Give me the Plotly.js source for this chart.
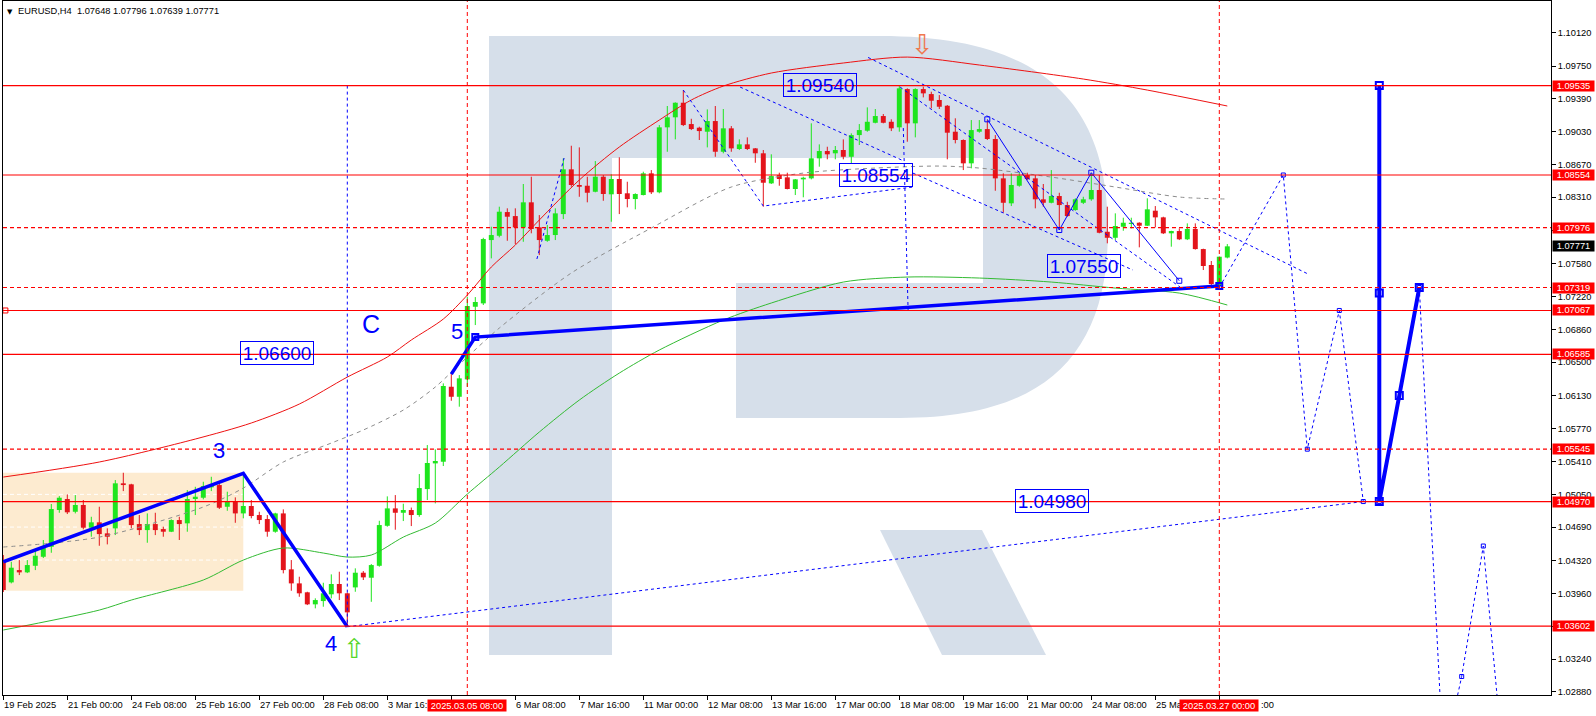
<!DOCTYPE html>
<html><head><meta charset="utf-8">
<script src="https://cdn.plot.ly/plotly-3.0.1.min.js"></script>
<style>html,body{margin:0;padding:0;background:#fff;overflow:hidden}#chart{width:1596px;height:716px}</style>
</head><body><div id="chart"></div>
<script>
// ---------------- DATA ----------------
const barOpen=[1.04328,1.04083,1.04218,1.04193,1.04265,1.04364,1.04474,1.04877,1.04998,1.04858,
1.04932,1.04683,1.04742,1.04621,1.04676,1.05170,1.05159,1.04723,1.04657,1.04723,
1.04668,1.04639,1.04767,1.04731,1.04998,1.05012,1.05126,1.05151,1.04913,1.04968,
1.04840,1.04921,1.04822,1.04778,1.04639,1.04840,1.04226,1.04072,1.03974,1.03842,
1.03878,1.03952,1.04065,1.03963,1.04028,1.04189,1.04134,1.04265,1.04704,1.04895,
1.04847,1.04877,1.04822,1.05107,1.05389,1.05407,1.06230,1.06120,1.06311,1.07108,
1.07145,1.07840,1.07887,1.08147,1.08103,1.07979,1.08254,1.07979,1.07832,1.07895,
1.08125,1.08616,1.08444,1.08436,1.08370,1.08535,1.08342,1.08510,1.08353,1.08290,
1.08334,1.08572,1.08364,1.09077,1.09187,1.09347,1.09113,1.09073,1.09029,1.09146,
1.08809,1.09066,1.08839,1.08890,1.08846,1.08792,1.08462,1.08553,1.08528,1.08400,
1.08506,1.08517,1.08737,1.08817,1.08792,1.08828,1.08754,1.08992,1.09040,1.09127,
1.09201,1.09138,1.09077,1.09497,1.09121,1.09497,1.09442,1.09377,1.09314,1.09029,
1.08938,1.08682,1.09029,1.09058,1.08949,1.08517,1.08243,1.08436,1.08553,1.08517,
1.08287,1.08249,1.08323,1.08224,1.08169,1.08249,1.08287,1.08389,1.07931,1.07865,
1.07986,1.08016,1.08030,1.07997,1.08162,1.08089,1.07914,1.07939,1.07848,1.07961,
1.07741,1.07566,1.07346,1.07648];
const barHigh=[1.04383,1.04309,1.04328,1.04328,1.04438,1.04548,1.04943,1.05030,1.05049,1.05041,
1.04987,1.04803,1.04913,1.04676,1.05206,1.05286,1.05165,1.04822,1.04840,1.04847,
1.04694,1.04775,1.04803,1.05096,1.05132,1.05187,1.05242,1.05187,1.05078,1.05016,
1.05286,1.04987,1.04858,1.04822,1.04847,1.04884,1.04328,1.04145,1.03980,1.03908,
1.04079,1.04171,1.04200,1.03970,1.04237,1.04207,1.04284,1.04759,1.05027,1.05041,
1.04946,1.04904,1.05272,1.05590,1.05543,1.06267,1.06369,1.06358,1.07218,1.07214,
1.07865,1.07986,1.08206,1.08188,1.08188,1.08455,1.08535,1.08114,1.08005,1.08188,
1.08737,1.08875,1.08857,1.08535,1.08707,1.08553,1.08561,1.08748,1.08480,1.08353,
1.08590,1.08608,1.09102,1.09311,1.09351,1.09486,1.09171,1.09084,1.09274,1.09311,
1.09278,1.09091,1.08945,1.08967,1.08850,1.08828,1.08781,1.08579,1.08579,1.08510,
1.08535,1.09121,1.08890,1.08864,1.08872,1.08945,1.09011,1.09113,1.09296,1.09278,
1.09223,1.09165,1.09540,1.09505,1.09505,1.09523,1.09468,1.09431,1.09322,1.09176,
1.08945,1.09157,1.09157,1.09157,1.08992,1.08572,1.08572,1.08579,1.08579,1.08553,
1.08455,1.08608,1.08359,1.08260,1.08298,1.08315,1.08572,1.08553,1.08206,1.08133,
1.08085,1.08085,1.08035,1.08298,1.08213,1.08096,1.07942,1.07968,1.08023,1.08023,
1.07745,1.07610,1.07660,1.07796];
const barLow=[1.03977,1.04072,1.04163,1.04185,1.04218,1.04350,1.04408,1.04847,1.04833,1.04840,
1.04665,1.04584,1.04485,1.04500,1.04602,1.05085,1.04676,1.04602,1.04518,1.04602,
1.04584,1.04635,1.04548,1.04639,1.04822,1.04994,1.05085,1.04888,1.04869,1.04737,
1.04786,1.04786,1.04723,1.04584,1.04628,1.04182,1.03991,1.03925,1.03834,1.03798,
1.03816,1.03908,1.03889,1.03596,1.03980,1.04109,1.03870,1.04255,1.04694,1.04661,
1.04756,1.04701,1.04803,1.04987,1.04950,1.05360,1.06076,1.06011,1.06230,1.06907,
1.07127,1.07639,1.07870,1.07832,1.07796,1.07821,1.07914,1.07675,1.07821,1.07840,
1.08070,1.08425,1.08315,1.08254,1.08364,1.08271,1.08041,1.08125,1.08199,1.08177,
1.08330,1.08345,1.08353,1.08809,1.08945,1.09091,1.09047,1.08938,1.08857,1.08754,
1.08792,1.08809,1.08828,1.08828,1.08688,1.08206,1.08455,1.08436,1.08396,1.08334,
1.08309,1.08506,1.08645,1.08726,1.08726,1.08726,1.08682,1.08883,1.09029,1.09121,
1.09121,1.09036,1.09029,1.08919,1.08967,1.09406,1.09285,1.09278,1.08726,1.08901,
1.08608,1.08627,1.09018,1.08938,1.08381,1.08140,1.08213,1.08425,1.08499,1.08188,
1.08206,1.08243,1.07957,1.08096,1.08162,1.08235,1.08271,1.07914,1.07804,1.07840,
1.07942,1.07968,1.07760,1.07994,1.07979,1.07906,1.07767,1.07840,1.07840,1.07735,
1.07511,1.07320,1.07319,1.07639];
const barClose=[1.03999,1.04244,1.04193,1.04273,1.04375,1.04482,1.04888,1.05012,1.04852,1.04932,
1.04683,1.04742,1.04613,1.04584,1.05170,1.05151,1.04712,1.04657,1.04723,1.04657,
1.04639,1.04767,1.04723,1.04998,1.05023,1.05140,1.05151,1.04902,1.04968,1.04840,
1.04921,1.04811,1.04767,1.04639,1.04840,1.04218,1.04072,1.03963,1.03842,1.03889,
1.03963,1.04065,1.03963,1.03754,1.04189,1.04138,1.04273,1.04712,1.04895,1.04847,
1.04877,1.04822,1.05118,1.05393,1.05415,1.06238,1.06120,1.06322,1.07116,1.07160,
1.07851,1.07895,1.08151,1.08096,1.07979,1.08254,1.07961,1.07840,1.07895,1.08133,
1.08616,1.08444,1.08425,1.08359,1.08535,1.08345,1.08510,1.08345,1.08290,1.08345,
1.08572,1.08364,1.09077,1.09187,1.09347,1.09102,1.09058,1.09036,1.09146,1.08809,
1.09066,1.08846,1.08890,1.08839,1.08792,1.08469,1.08542,1.08510,1.08400,1.08506,
1.08524,1.08737,1.08817,1.08781,1.08828,1.08754,1.08992,1.09047,1.09138,1.09201,
1.09127,1.09066,1.09505,1.09121,1.09497,1.09450,1.09369,1.09303,1.09018,1.08938,
1.08682,1.09047,1.09058,1.08949,1.08517,1.08249,1.08444,1.08546,1.08510,1.08287,
1.08249,1.08323,1.08224,1.08103,1.08287,1.08287,1.08389,1.07920,1.07865,1.07994,
1.08030,1.08030,1.07997,1.08177,1.08089,1.07914,1.07939,1.07848,1.07961,1.07741,
1.07555,1.07357,1.07657,1.07771];

// indicator curves (bar index, price)
const redBandBars=[0,12,24,31,37,43,48,51,55,58,61,64,67,72,77,82,86,90,96,105,113,122,135,143,153];
const redBand=[1.05239,1.05404,1.05656,1.05832,1.06040,1.06336,1.06556,1.06743,1.06973,1.07236,1.07544,1.07785,1.08060,1.08499,1.08861,1.09157,1.09377,1.09530,1.09673,1.09783,1.09848,1.09761,1.09607,1.09486,1.09311];
const greenBandBars=[0,12,16,25,30,35,40,43,46,50,54,58,62,67,72,77,82,90,96,105,113,122,131,139,147,153];
const greenBand=[1.03560,1.03779,1.03889,1.04109,1.04328,1.04460,1.04405,1.04361,1.04383,1.04580,1.04734,1.05052,1.05349,1.05733,1.06084,1.06380,1.06633,1.06962,1.07149,1.07379,1.07434,1.07423,1.07379,1.07313,1.07258,1.07127];
const grayMaBars=[0,12,25,30,35,41,45,50,54,58,62,71,81,91,100,109,117,122,131,139,147,153];
const grayMa=[1.04471,1.04580,1.04910,1.05118,1.05404,1.05612,1.05755,1.05974,1.06227,1.06556,1.06874,1.07478,1.07972,1.08422,1.08575,1.08630,1.08652,1.08630,1.08531,1.08422,1.08312,1.08290];

// horizontal levels
const levels=[1.09535,1.08554,1.07976,1.07319,1.07067,1.06585,1.05545,1.04970,1.03602];
const levelDashed=[false,false,true,true,false,false,true,false,false];
const lastPrice=1.07771;

// wave lines (thick)
const waveABars=[0,30,43], waveA=[1.04309,1.05280,1.03596];
const waveBBars=[56,59,152], waveB=[1.06369,1.06775,1.07335];
const waveCBars=[172,172,174.5,177], waveC=[1.09535,1.04970,1.06133,1.07319];
const waveCMarkBars=[172,172,172,174.5,177], waveCMark=[1.09535,1.07260,1.04970,1.06133,1.07319];
// dashed helper lines
const trendBars=[43,170], trend=[1.03596,1.04970];
const vline1Bars=[43,43], vline1=[1.09535,1.03596];
const vline2Bars=[112.5,113.1], vline2=[1.09069,1.07072];
const fcst1Bars=[152,160,163,167,170,172], fcst1=[1.07319,1.08554,1.05545,1.07067,1.04970,1.04970];
const fcst2Bars=[177,180,182.3,185,187], fcst2=[1.07319,1.02130,1.03050,1.04482,1.02570];
const chABars=[108.1,163.1], chA=[1.09844,1.07467];
const chBBars=[112.1,147.1], chB=[1.09519,1.07324];
const chCBars=[113.7,141.2], chC=[1.08575,1.07511];
const triBars=[85,95,113.7], tri=[1.09486,1.08213,1.08422];
const diagBars=[92.1,112.3], diag=[1.09519,1.08718];
const smallBars=[66.7,70.1], small=[1.07632,1.08740];
const zigBars=[123,132,136,147], zig=[1.09165,1.07950,1.08579,1.07393];

// boxed price labels
const boxText=['1.09540','1.08554','1.07550','1.06600','1.04980'];
const boxBars=[102.1,109.1,135.1,34.15,131.1];
const boxPrice=[1.09540,1.08554,1.07550,1.06600,1.04980];
// wave labels
const waveText=['3','4','5','C'];
const waveBars=[27,41,56.7,46];
const wavePrice=[1.05528,1.03414,1.06834,1.06918];
// signal arrows
const arrowDownBar=114.9, arrowDownPrice=1.09991;
const arrowUpBar=43.96, arrowUpPrice=1.03362;
// shaded zone
const zoneBars=[-0.04,30], zonePrice=[1.03991,1.05286];
const zoneFib=[1.05049,1.04690,1.04328];

// axis ticks (labels as visible; the ones under the red time boxes are cut like in the terminal)
const tickBars=[0,8,16,24,32,40,48,64,72,80,88,96,104,112,120,128,136,144];
const tickLabels=['19 Feb 2025','21 Feb 00:00','24 Feb 08:00','25 Feb 16:00','27 Feb 00:00','28 Feb 08:00','3 Mar 16:','6 Mar 08:00','7 Mar 16:00','11 Mar 00:00','12 Mar 08:00','13 Mar 16:00','17 Mar 00:00','18 Mar 08:00','19 Mar 16:00','21 Mar 00:00','24 Mar 08:00','25 Ma'];
const allTickBars=[0,8,16,24,32,40,48,56,64,72,80,88,96,104,112,120,128,136,144,152];
const tailLabelBar=152, tailLabel=':00';
const timeMarkBars=[58,152];
const timeMarkText=['2025.03.05 08:00','2025.03.27 00:00'];
const yTicks=[1.10120,1.09750,1.09390,1.09030,1.08670,1.08310,1.07950,1.07580,1.07220,1.06860,1.06500,1.06130,1.05770,1.05410,1.05050,1.04690,1.04320,1.03960,1.03600,1.03240,1.02880];
const headerText='EURUSD,H4\u00a0\u00a01.07648 1.07796 1.07639 1.07771';

// ---------------- DRAW ----------------
const X_RANGE=[-0.0375,193.4625], Y_RANGE=[1.02847,1.104635];
const GREEN='#1ee51e', RED='#e3141c', BLUE='#0000ff', FONT='Liberation Sans, Arial, sans-serif';
const idx=barOpen.map((_,i)=>i);
const bull=barClose.map((c,i)=>c>=barOpen[i]);
function wicks(up){const x=[],y=[];idx.forEach(i=>{if(bull[i]===up){x.push(i,i,null);y.push(barLow[i],barHigh[i],null);}});
 return {type:'scatter',mode:'lines',x,y,line:{color:up?GREEN:RED,width:1},hoverinfo:'skip'};}
function ln(x,y,color,width,dash,shape){return {type:'scatter',mode:'lines',x,y,line:{color,width,dash:dash||'solid',shape:shape||'linear',smoothing:0.8},hoverinfo:'skip'};}

const traces=[
 {type:'bar',x:idx,base:barOpen,y:barClose.map((c,i)=>c-barOpen[i]),width:0.62,
  marker:{color:bull.map(b=>b?GREEN:RED),line:{width:0}},hoverinfo:'skip'},
 wicks(true),wicks(false),
 ln(grayMaBars,grayMa,'#8c8c8c',1,'4px,4px','spline'),
 ln(redBandBars,redBand,'#ee1111',1,'solid','spline'),
 ln(greenBandBars,greenBand,'#33bb33',1,'solid','spline'),
 ln(trendBars,trend,BLUE,1,'3px,3px'),
 ln(vline1Bars,vline1,BLUE,1,'3px,3px'),
 ln(vline2Bars,vline2,BLUE,1,'3px,3px'),
 ln(chABars,chA,BLUE,1,'3px,3px'),
 ln(chBBars,chB,BLUE,1,'3px,3px'),
 ln(chCBars,chC,BLUE,1,'3px,3px'),
 ln(triBars,tri,BLUE,1,'3px,3px'),
 ln(diagBars,diag,BLUE,1,'3px,3px'),
 ln(smallBars,small,BLUE,1,'3px,3px'),
 Object.assign(ln(fcst1Bars,fcst1,BLUE,1,'3px,3px'),{mode:'lines+markers',marker:{symbol:'square-open',size:4,color:BLUE}}),
 Object.assign(ln(fcst2Bars,fcst2,BLUE,1,'3px,3px'),{mode:'lines+markers',marker:{symbol:'square-open',size:4,color:BLUE}}),
 Object.assign(ln(zigBars,zig,BLUE,1),{mode:'lines+markers',marker:{symbol:'square-open',size:5,color:BLUE}}),
 ln(waveABars,waveA,BLUE,3.5),
 ln(waveBBars,waveB,BLUE,3.5),
 ln(waveCBars,waveC,BLUE,4),
 {type:'scatter',mode:'markers',x:waveCMarkBars,y:waveCMark,marker:{symbol:'square-open',size:7,color:BLUE,line:{width:2}},hoverinfo:'skip'},
 {type:'scatter',mode:'markers',x:[waveBBars[1],waveBBars[2]],y:[waveB[1],waveB[2]],marker:{symbol:'square-open',size:6,color:BLUE,line:{width:2}},hoverinfo:'skip'},
 {type:'scatter',mode:'markers',x:[X_RANGE[0]+0.3],y:[levels[4]],marker:{symbol:'square-open',size:5,color:'#ff0000'},hoverinfo:'skip'}
];

// logo watermark (decoration, pixel geometry -> paper)
const P=(X,Y)=>((X-3)/1548).toFixed(5)+','+(1-(Y-1)/694).toFixed(5);
const shapes=[
 {type:'path',xref:'paper',yref:'paper',layer:'below',line:{width:0},fillcolor:'#d6dfea',
  path:`M${P(489,36)} L${P(880,36)} C${P(1040,36)} ${P(1108,100)} ${P(1108,230)} C${P(1108,360)} ${P(1040,418)} ${P(900,418)} L${P(736,418)} L${P(736,283)} L${P(983,283)} L${P(983,158)} L${P(612,158)} L${P(612,655)} L${P(489,655)} Z`},
 {type:'path',xref:'paper',yref:'paper',layer:'below',line:{width:0},fillcolor:'#d6dfea',
  path:`M${P(880,530)} L${P(982,530)} L${P(1046,655)} L${P(942,655)} Z`},
 {type:'rect',xref:'x',yref:'y',x0:zoneBars[0],x1:zoneBars[1],y0:zonePrice[0],y1:zonePrice[1],fillcolor:'#fdebd0',line:{width:0},layer:'below'}
];
zoneFib.forEach(v=>shapes.push({type:'line',xref:'x',yref:'y',x0:zoneBars[0],x1:zoneBars[1],y0:v,y1:v,layer:'below',line:{color:'#ffffff',width:1,dash:'4px,3px'}}));
levels.forEach((v,k)=>shapes.push({type:'line',xref:'paper',yref:'y',x0:0,x1:1,y0:v,y1:v,layer:'above',line:{color:'#ff0000',width:1.2,dash:levelDashed[k]?'4px,3px':'solid'}}));
timeMarkBars.forEach(b=>shapes.push({type:'line',xref:'x',yref:'paper',x0:b,x1:b,y0:0,y1:1,layer:'above',line:{color:'#ff0000',width:1,dash:'4px,3px'}}));

const annotations=[];
// header
annotations.push({xref:'paper',yref:'paper',x:0,y:1,xanchor:'left',yanchor:'top',xshift:2,yshift:-5,text:'▼',showarrow:false,font:{family:'DejaVu Sans',size:7,color:'#000'}});
annotations.push({xref:'paper',yref:'paper',x:0,y:1,xanchor:'left',yanchor:'top',xshift:14,yshift:-4,text:headerText,showarrow:false,font:{family:FONT,size:9.3,color:'#000'},borderpad:0});
// x tick labels
tickBars.forEach((b,k)=>annotations.push({xref:'x',yref:'paper',x:b,y:0,xanchor:'left',yanchor:'top',yshift:-4,text:tickLabels[k],showarrow:false,font:{family:FONT,size:9.3,color:'#000'},borderpad:0}));
annotations.push({xref:'x',yref:'paper',x:tailLabelBar,y:0,xanchor:'left',yanchor:'top',xshift:41,yshift:-4,text:tailLabel,showarrow:false,font:{family:FONT,size:9.3,color:'#000'},borderpad:0});
timeMarkBars.forEach((b,k)=>annotations.push({xref:'x',yref:'paper',x:b,y:0,xanchor:'center',yanchor:'top',yshift:-4,text:timeMarkText[k],showarrow:false,font:{family:FONT,size:9.3,color:'#fff'},bgcolor:'#ff0000',borderpad:0,width:78,height:11}));
// right-side level labels
levels.forEach(v=>annotations.push({xref:'paper',yref:'y',x:1,y:v,xanchor:'left',yanchor:'middle',xshift:1,text:v.toFixed(5),showarrow:false,font:{family:FONT,size:9.3,color:'#fff'},bgcolor:'#ff0000',borderpad:0,width:41,height:10}));
annotations.push({xref:'paper',yref:'y',x:1,y:lastPrice,xanchor:'left',yanchor:'middle',xshift:1,text:lastPrice.toFixed(5),showarrow:false,font:{family:FONT,size:9.3,color:'#fff'},bgcolor:'#000000',borderpad:0,width:41,height:10});
// boxed labels
boxText.forEach((t,k)=>annotations.push({xref:'x',yref:'y',x:boxBars[k],y:boxPrice[k],xanchor:'center',yanchor:'middle',text:t,showarrow:false,font:{family:FONT,size:19,color:BLUE},bordercolor:BLUE,borderwidth:1,borderpad:0,width:72,height:22}));
// wave labels
waveText.forEach((t,k)=>annotations.push({xref:'x',yref:'y',x:waveBars[k],y:wavePrice[k],xanchor:'center',yanchor:'middle',text:t,showarrow:false,font:{family:FONT,size:t==='C'?25:22,color:BLUE}}));
// arrows
annotations.push({xref:'x',yref:'y',x:arrowDownBar,y:arrowDownPrice,xanchor:'center',yanchor:'middle',text:'⇩',showarrow:false,font:{family:'DejaVu Sans',size:27,color:'#f07850'}});
annotations.push({xref:'x',yref:'y',x:arrowUpBar,y:arrowUpPrice,xanchor:'center',yanchor:'middle',text:'⇧',showarrow:false,font:{family:'DejaVu Sans',size:27,color:'#55d62a'}});

const layout={
 width:1596,height:716,margin:{l:3,r:45,t:1,b:21,pad:0},
 paper_bgcolor:'#ffffff',plot_bgcolor:'#ffffff',showlegend:false,barmode:'overlay',
 xaxis:{range:X_RANGE,autorange:false,showgrid:false,zeroline:false,showline:true,mirror:true,linecolor:'#000',linewidth:1,
  ticks:'outside',ticklen:4,tickcolor:'#000',tickvals:allTickBars,showticklabels:false,fixedrange:true},
 yaxis:{range:Y_RANGE,autorange:false,side:'right',showgrid:false,zeroline:false,showline:true,mirror:true,linecolor:'#000',linewidth:1,
  ticks:'outside',ticklen:4,tickcolor:'#000',tickvals:yTicks,ticktext:yTicks.map(v=>v.toFixed(5)),
  tickfont:{family:FONT,size:9.3,color:'#000'},fixedrange:true},
 shapes,annotations,hovermode:false
};
Plotly.newPlot('chart',traces,layout,{displayModeBar:false,staticPlot:true});
</script></body></html>
